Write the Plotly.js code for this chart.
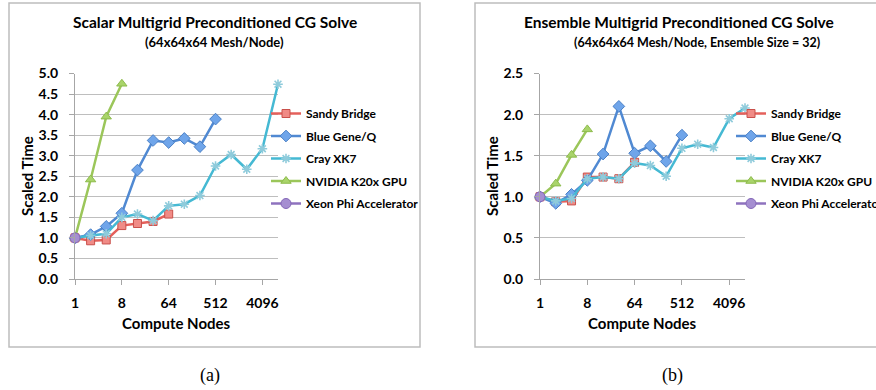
<!DOCTYPE html>
<html>
<head>
<meta charset="utf-8">
<script src="https://cdn.plot.ly/plotly-3.0.1.min.js"></script>
<style>html,body{margin:0;padding:0;background:#fff;}#chart{width:876px;height:390px;}</style>
</head>
<body>
<div id="chart"></div>
<script>
// ---- data ----
const nodes = [1, 2, 4, 8, 16, 32, 64, 128, 256, 512, 1024, 2048, 4096, 8192];
const seriesNames = ["Sandy Bridge", "Blue Gene/Q", "Cray XK7", "NVIDIA K20x GPU", "Xeon Phi Accelerator"];

// (a) Scalar multigrid preconditioned CG solve
const sandyA = [1.00, 0.93, 0.95, 1.30, 1.35, 1.40, 1.58];
const bgqA   = [1.00, 1.08, 1.28, 1.60, 2.65, 3.37, 3.32, 3.42, 3.22, 3.89];
const crayA  = [1.00, 1.06, 1.10, 1.50, 1.58, 1.42, 1.78, 1.82, 2.03, 2.75, 3.03, 2.67, 3.17, 4.74];
const nvA    = [1.00, 2.42, 3.95, 4.75];
const xeonA  = [1.00];

// (b) Ensemble multigrid preconditioned CG solve
const sandyB = [1.00, 0.94, 0.95, 1.24, 1.24, 1.22, 1.42];
const bgqB   = [1.00, 0.92, 1.03, 1.20, 1.52, 2.10, 1.53, 1.62, 1.43, 1.75];
const crayB  = [1.00, 0.95, 0.98, 1.22, 1.24, 1.22, 1.41, 1.38, 1.25, 1.59, 1.64, 1.60, 1.95, 2.08];
const nvB    = [1.00, 1.16, 1.51, 1.82];
const xeonB  = [1.00];

const xTickVals = [1, 8, 64, 512, 4096];
const xTickText = ["1", "8", "64", "512", "4096"];
const yTicksA = [0, 0.5, 1, 1.5, 2, 2.5, 3, 3.5, 4, 4.5, 5];
const yTicksB = [0, 0.5, 1, 1.5, 2, 2.5];

// ---- styles ----
const W = 876, H = 390;
const px = v => v / W, py = v => 1 - v / H;
const FONT = "Lato, 'Open Sans', sans-serif";
const styles = [
  {line: "#E4605B", fill: "#F08B86", edge: "#C9504B", symbol: "square", size: 8, lw: 1},
  {line: "#5089D2", fill: "#6FA5EA", edge: "#4A80C6", symbol: "diamond", size: 9, lw: 1},
  {line: "#45B9D3", fill: "#9FD6E3", edge: "#8FCBDB", symbol: "asterisk-open", size: 8, lw: 1.6},
  {line: "#9BC65A", fill: "#A9D46A", edge: "#8DBB4C", symbol: "triangle-up", size: 9, lw: 1},
  {line: "#8E72BE", fill: "#A58ED1", edge: "#8467B8", symbol: "circle", size: 10, lw: 1}
];

function mk(vals, i, xa, ya, leg) {
  const s = styles[i];
  return {
    type: "scatter", mode: "lines+markers",
    x: nodes.slice(0, vals.length), y: vals,
    name: seriesNames[i], xaxis: xa, yaxis: ya,
    legend: leg, legendgroup: leg + "g" + i,
    line: {color: s.line, width: 2.5},
    marker: {symbol: s.symbol, size: s.size, color: s.symbol === "asterisk-open" ? s.edge : s.fill,
             line: {color: s.edge, width: s.lw}},
    cliponaxis: false
  };
}

const dataA = [sandyA, bgqA, crayA, nvA, xeonA];
const dataB = [sandyB, bgqB, crayB, nvB, xeonB];
const traces = [];
dataA.forEach((v, i) => traces.push(mk(v, i, "x", "y", "legend")));
dataB.forEach((v, i) => traces.push(mk(v, i, "x2", "y2", "legend2")));

const tickFont = {family: FONT, size: 14, color: "#000", weight: "bold"};
function xaxis(dom) {
  return {
    type: "log", domain: dom, range: [0, Math.log10(8192)],
    tickvals: xTickVals, ticktext: xTickText, tickfont: tickFont,
    showgrid: false, showline: true, linecolor: "#A6A6A6", linewidth: 1,
    ticks: "outside", ticklen: 5, tickcolor: "#A6A6A6", ticklabelstandoff: 6,
    zeroline: false, fixedrange: true
  };
}
function yaxis(dom, range, tv, anchor) {
  return {
    domain: dom, range: range, tickvals: tv, tickformat: ".1f", tickfont: tickFont,
    showgrid: true, gridcolor: "#BEBEBE", gridwidth: 1,
    showline: true, linecolor: "#A6A6A6", linewidth: 1,
    ticks: "outside", ticklen: 5, tickcolor: "#A6A6A6", ticklabelstandoff: 8,
    zeroline: false, anchor: anchor, fixedrange: true
  };
}

const yDom = [py(279), py(73.5)];
const legFont = {family: FONT, size: 12, color: "#000", weight: "bold"};
const layout = {
  width: W, height: H,
  margin: {l: 0, r: 0, t: 0, b: 0, autoexpand: false},
  paper_bgcolor: "#fff", plot_bgcolor: "#fff",
  showlegend: true,
  xaxis: Object.assign(xaxis([px(75), px(278)]), {anchor: "y"}),
  yaxis: yaxis(yDom, [0, 5], yTicksA, "x"),
  xaxis2: Object.assign(xaxis([px(540), px(745)]), {anchor: "y2"}),
  yaxis2: yaxis(yDom, [0, 2.5], yTicksB, "x2"),
  legend: {x: px(266), y: py(99), xanchor: "left", yanchor: "top", font: legFont,
           bgcolor: "rgba(0,0,0,0)", borderwidth: 0, tracegroupgap: 3.5, itemclick: false},
  legend2: {x: px(731), y: py(99), xanchor: "left", yanchor: "top", font: legFont,
            bgcolor: "rgba(0,0,0,0)", borderwidth: 0, tracegroupgap: 3.5, itemclick: false},
  shapes: [
    {type: "rect", xref: "paper", yref: "paper", x0: px(9), x1: px(420), y0: py(347), y1: py(3),
     line: {color: "#BDBDBD", width: 1.5}, layer: "below"},
    {type: "rect", xref: "paper", yref: "paper", x0: px(475), x1: 1.02, y0: py(347), y1: py(3),
     line: {color: "#BDBDBD", width: 1.5}, layer: "below"}
  ],
  annotations: [
    {text: "Scalar Multigrid Preconditioned CG Solve", x: px(215), y: py(22), font: {family: FONT, size: 15.5, weight: "bold", color: "#000"}},
    {text: "(64x64x64 Mesh/Node)", x: px(214), y: py(42), font: {family: FONT, size: 13, weight: "bold", color: "#000"}},
    {text: "Ensemble Multigrid Preconditioned CG Solve", x: px(679), y: py(22), font: {family: FONT, size: 15.5, weight: "bold", color: "#000"}},
    {text: "(64x64x64 Mesh/Node, Ensemble Size = 32)", x: px(697), y: py(42), font: {family: FONT, size: 12.5, weight: "bold", color: "#000"}},
    {text: "Compute Nodes", x: px(176.5), y: py(323), font: {family: FONT, size: 15, weight: "bold", color: "#000"}},
    {text: "Compute Nodes", x: px(642.5), y: py(323), font: {family: FONT, size: 15, weight: "bold", color: "#000"}},
    {text: "Scaled Time", x: px(27), y: py(176), textangle: -90, font: {family: FONT, size: 15, weight: "bold", color: "#000"}},
    {text: "Scaled Time", x: px(492), y: py(176), textangle: -90, font: {family: FONT, size: 15, weight: "bold", color: "#000"}},
    {text: "(a)", x: px(210), y: py(375), font: {family: "'Liberation Serif', serif", size: 18, color: "#000"}},
    {text: "(b)", x: px(672), y: py(375), font: {family: "'Liberation Serif', serif", size: 18, color: "#000"}}
  ].map(a => Object.assign({xref: "paper", yref: "paper", showarrow: false, xanchor: "center", yanchor: "middle"}, a))
};

Plotly.newPlot("chart", traces, layout, {staticPlot: true, displayModeBar: false});
</script>
</body>
</html>
